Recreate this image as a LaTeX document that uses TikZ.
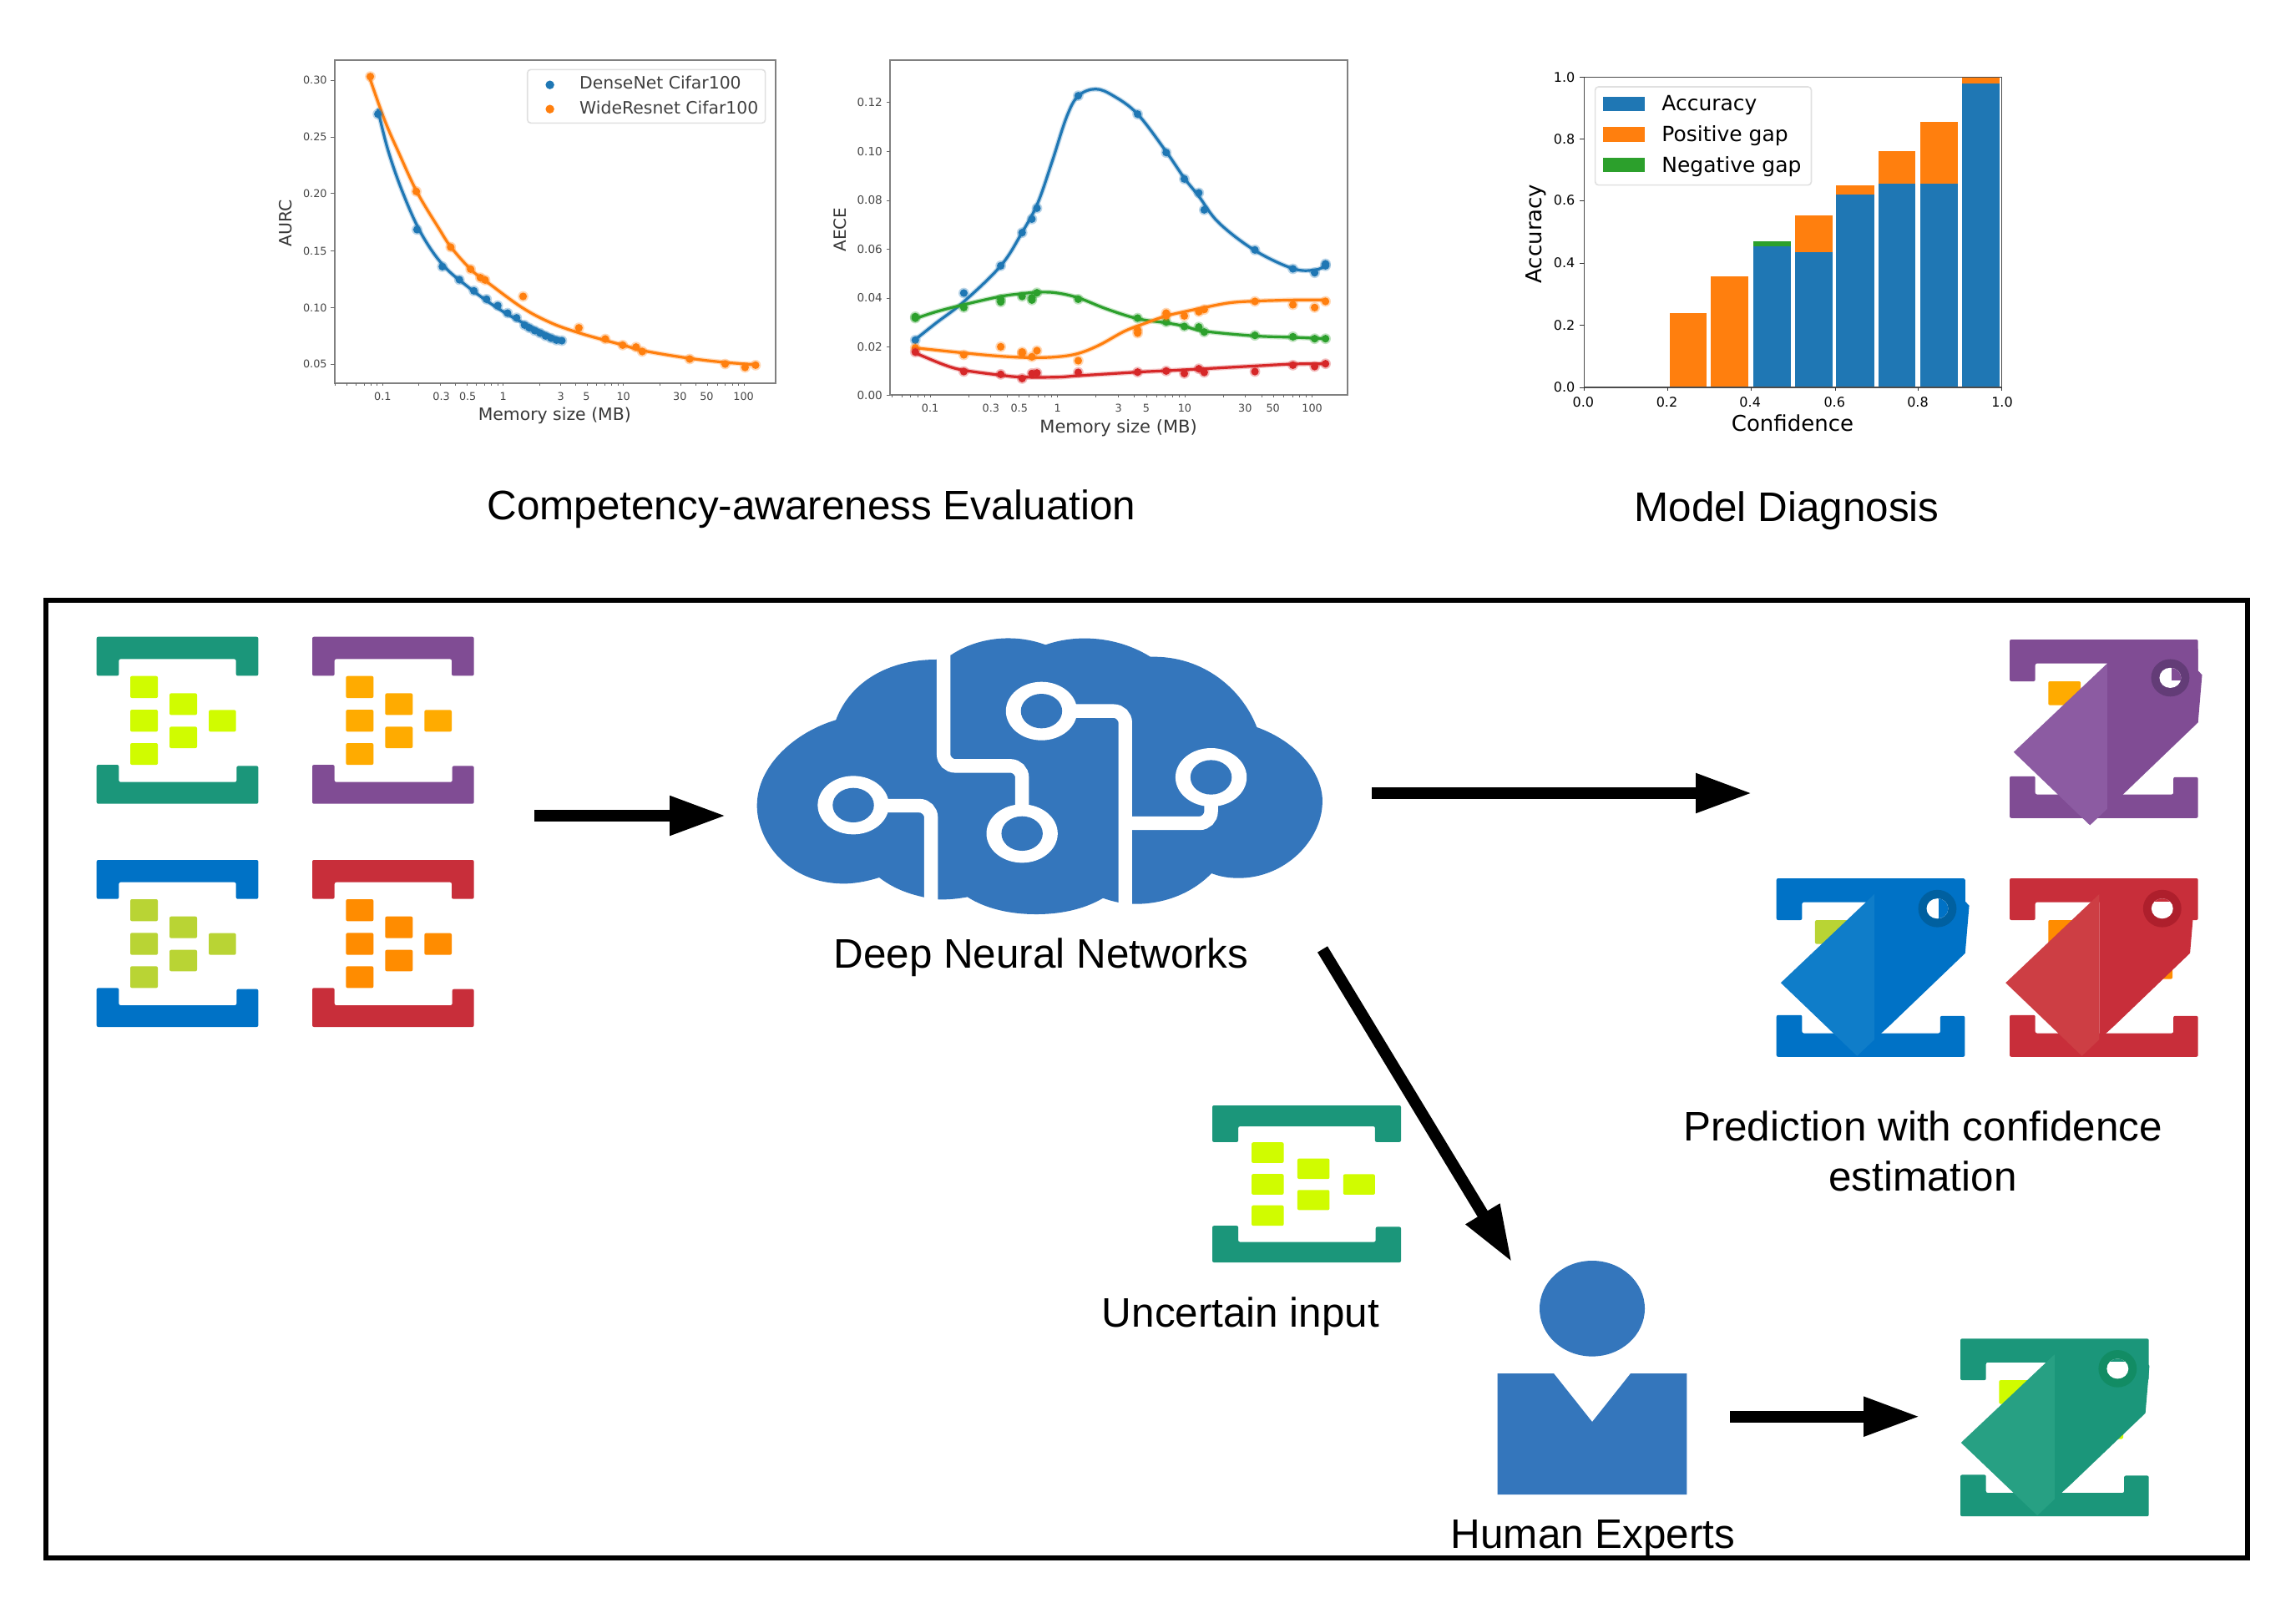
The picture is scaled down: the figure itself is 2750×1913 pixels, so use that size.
\documentclass[tikz,border=0pt]{standalone}
\usepackage{fontspec}
\setmainfont{Liberation Sans}
\newfontfamily\dv{DejaVu Sans}
\usetikzlibrary{arrows.meta}
\definecolor{cloudblue}{HTML}{3476BC}
\definecolor{mplblue}{HTML}{1F77B4}
\definecolor{mplorange}{HTML}{FF7F0E}
\definecolor{mplgreen}{HTML}{2CA02C}
\definecolor{mplred}{HTML}{D62728}
\definecolor{iteal}{HTML}{1B967A}
\definecolor{ipurple}{HTML}{804C94}
\definecolor{iblue}{HTML}{0072C6}
\definecolor{ired}{HTML}{C82E3A}
\definecolor{lteal}{HTML}{27A083}
\definecolor{lpurple}{HTML}{8C5BA2}
\definecolor{lblue}{HTML}{0F7DC9}
\definecolor{lred}{HTML}{CD3E44}
\definecolor{rteal}{HTML}{128C64}
\definecolor{rpurple}{HTML}{633C77}
\definecolor{rblue}{HTML}{0060A0}
\definecolor{rred}{HTML}{AE1F2C}
\definecolor{sqlime}{HTML}{D0FC00}
\definecolor{sqamber}{HTML}{FFAB00}
\definecolor{sqolive}{HTML}{B9D434}
\definecolor{sqorange}{HTML}{FF8C00}
\tikzset{
  biglabel/.style={font=\fontsize{24.7}{29}\selectfont,inner sep=0pt,anchor=base},
  bigarrow/.style={line width=7pt,-{Triangle[length=34pt,width=22pt]},black},
  plotframe/.style={draw=black!50,line width=1pt},
  ticklab/.style={font=\dv\fontsize{6.4}{7}\selectfont,text=black!72,inner sep=0pt},
  axlab/.style={font=\dv\fontsize{10.2}{12}\selectfont,text=black!78,inner sep=0pt},
  leglab/.style={font=\dv\fontsize{10.2}{12}\selectfont,text=black!75,inner sep=0pt,anchor=west},
  barticklab/.style={font=\dv\fontsize{8}{9}\selectfont,inner sep=0pt},
  baraxlab/.style={font=\dv\fontsize{13}{15}\selectfont,inner sep=0pt},
  barleglab/.style={font=\dv\fontsize{12.5}{15}\selectfont,inner sep=0pt,anchor=west},
}
% smooth fitted curve with a soft halo (the reference plots are blurred)
\newcommand{\fitcurve}[2]{%
  \draw[#1,opacity=.25,line width=3pt,line cap=round] plot[smooth,tension=.6] coordinates {#2};
  \draw[#1,line width=1.6pt,line cap=round] plot[smooth,tension=.6] coordinates {#2};}
\newcommand{\scatterpts}[2]{%
  \foreach \p in {#2}{\fill[#1,opacity=.3] \p circle[radius=3.2pt];\fill[#1] \p circle[radius=2.3pt];}}
\newcommand{\logticks}[5]{%
  \foreach \d in {-2,...,2}\foreach \m in {.301,.477,.602,.699,.778,.845,.903,.954,1}{%
    \pgfmathsetmacro\xx{#1+#2*(\d+\m)}%
    \pgfmathparse{int((\xx>=#3 && \xx<=#4)?1:0)}%
    \ifnum\pgfmathresult=1 \draw[black!60,line width=.5pt] (\xx,#5) -- ++(0,8);\fi}}
% plain data icon, local unit = zoom pixel
\newcommand{\dataicon}[6]{%
  \begin{scope}[shift={(#1,#2)},x=#3,y=#4]
    \fill[#5,rounded corners=1pt] (0,0)--(581,0)--(581,140)--(501,140)--(501,80)--(80,80)--(80,140)--(0,140)--cycle;
    \fill[#5,rounded corners=1pt] (0,460)--(80,460)--(80,522)--(503,522)--(503,464)--(581,464)--(581,600)--(0,600)--cycle;
    \foreach \ya/\yb in {141/220,262/341,382/460}\fill[#6,rounded corners=1pt] (121,\ya) rectangle (220,\yb);
    \foreach \ya/\yb in {203/281,323/400}\fill[#6,rounded corners=1pt] (262,\ya) rectangle (361,\yb);
    \fill[#6,rounded corners=1pt] (403,263) rectangle (501,341);
  \end{scope}}
\newcommand{\tagcolors}[4]{\colorlet{tagmain}{#1}\colorlet{taglight}{#2}\colorlet{tagring}{#3}\colorlet{tagsq}{#4}}
% tagged icon: origin x,y ; y unit ; fold anchor ax,ay ; hole mask rectangle corners ; extra square colour
\newcommand{\tagicon}[8]{%
  \begin{scope}[shift={(#1,#2)},x=.18498pt,y=#3]
    \fill[tagmain,rounded corners=1pt] (0,0)--(610,0)--(610,145)--(530,145)--(530,83)--(83,83)--(83,145)--(0,145)--cycle;
    \fill[tagmain,rounded corners=1pt] (0,475)--(83,475)--(83,538)--(530,538)--(530,478)--(610,478)--(610,620)--(0,620)--cycle;
    \fill[tagsq,rounded corners=1pt] (125,145) rectangle (230,228);
    \fill[#8,rounded corners=1pt] (490,290) rectangle (527,350);
    \begin{scope}[shift={(#4,#5)}]
      \fill[tagmain] (0,-50)--(294,-50)--(294,25)--(307,40)--(294,205)--(51,455)--(0,505)--cycle;
      \fill[taglight] (0,0)--(-303,308)--(-56,562)--(0,505)--cycle;
      \fill[tagring] (204,50) ellipse[x radius=62,y radius=65];
      \begin{scope}
        \clip (204,50) ellipse[x radius=35,y radius=35];
        \fill[white] (150,0) rectangle (260,100);
        \fill[tagmain] (204,50) ++(#6) rectangle ++(#7);
      \end{scope}
    \end{scope}
  \end{scope}}
\begin{document}
\begin{tikzpicture}[x=.5pt,y=-.5pt]
\useasboundingbox (0,0) rectangle (2750,1913);
\fill[white] (0,0) rectangle (2750,1913);

%%% ---- plot 1 : AURC
\begin{scope}[shift={(300,40)},x=.21683pt,y=-.16667pt]
  \draw[plotframe] (232,97) rectangle (1450,1258);
  \logticks{698}{332.5}{232}{1450}{1258}
  \foreach \yy/\lab [count=\c] in {168/0.30,372/0.25,575/0.20,782/0.15,985/0.10,1188/0.05}{
    \draw[black!60,line width=.5pt] (232,\yy) -- ++(-10,0);
    \node[ticklab,anchor=east] (pa-y\c) at (212,\yy) {\lab};}
  \foreach \xx/\lab [count=\c] in {365/0.1,527/0.3,600/0.5,698/1,857/3,928/5,1030/10,1186/30,1260/50,1362/100}{
    \node[ticklab] (pa-x\c) at (\xx,1305) {\lab};}
  \node[axlab] (pa-xl) at (840,1373) {Memory size (MB)};
  \node[axlab,rotate=90] (pa-yl) at (98,683) {AURC};
  \fitcurve{mplorange}{(328,155)(370,310)(410,430)(460,570)(520,700)(555,770)(610,850)(650,890)(750,985)(830,1040)(905,1075)(980,1103)(1030,1120)(1085,1140)(1210,1167)(1310,1182)(1395,1190)}
  \fitcurve{mplblue}{(352,275)(380,420)(420,570)(470,715)(530,830)(600,910)(680,985)(760,1045)(860,1105)}
  \scatterpts{mplorange}{(331,155),(458,568),(553,768),(608,847),(635,878),(648,886),(753,945),(907,1058),(980,1098),(1028,1120),(1065,1127),(1082,1143),(1213,1170),(1311,1188),(1366,1200),(1395,1192)}
  \scatterpts{mplblue}{(352,290),(460,705),(530,838),(577,885),(617,925),(652,955),(683,978),(710,1005),(735,1022),(757,1048),(770,1058),(785,1068),(800,1077),(815,1087),(830,1095),(845,1102),(860,1104)}
  \draw[black!12,fill=white,rounded corners=2pt,line width=.8pt] (765,130) rectangle (1422,322);
  \fill[mplblue] (827,185) circle[radius=2.6pt];
  \fill[mplorange] (827,272) circle[radius=2.6pt];
  \node[leglab] (pa-l1) at (908,178) {DenseNet Cifar100};
  \node[leglab] (pa-l2) at (908,268) {WideResnet Cifar100};
\end{scope}

%%% ---- plot 2 : AECE
\begin{scope}[shift={(1000,40)},x=.21683pt,y=-.16667pt]
  \draw[plotframe] (153,97) rectangle (1415,1300);
  \logticks{615}{351.7}{153}{1415}{1300}
  \foreach \yy/\lab [count=\c] in {247/0.12,424/0.10,600/0.08,776/0.06,951/0.04,1127/0.02,1300/0.00}{
    \draw[black!60,line width=.5pt] (153,\yy) -- ++(-10,0);
    \node[ticklab,font=\dv\fontsize{6.8}{7}\selectfont,anchor=east] (pb-y\c) at (132,\yy) {\lab};}
  \foreach \xx/\lab [count=\c] in {263/0.1,431/0.3,509/0.5,615/1,783/3,860/5,966/10,1133/30,1210/50,1318/100}{
    \node[ticklab] (pb-x\c) at (\xx,1347) {\lab};}
  \node[axlab,font=\dv\fontsize{10.5}{12}\selectfont] (pb-xl) at (783,1418) {Memory size (MB)};
  \node[axlab,font=\dv\fontsize{10}{12}\selectfont,rotate=90] (pb-yl) at (14,705) {AECE};
  \fitcurve{mplblue}{(222,1100)(280,1040)(355,965)(458,835)(517,715)(560,610)(600,460)(640,300)(672,225)(720,200)(770,225)(836,290)(915,425)(965,520)(1005,585)(1060,680)(1160,780)(1265,845)(1325,850)(1355,835)}
  \fitcurve{mplgreen}{(222,1025)(280,1000)(355,975)(458,945)(517,935)(558,930)(610,932)(672,950)(750,990)(836,1025)(915,1040)(965,1052)(1020,1070)(1160,1087)(1265,1092)(1355,1097)}
  \fitcurve{mplorange}{(222,1130)(355,1148)(458,1160)(544,1165)(615,1162)(672,1150)(730,1120)(800,1070)(860,1040)(915,1015)(965,1000)(1020,985)(1090,968)(1160,962)(1265,958)(1355,958)}
  \fitcurve{mplred}{(222,1148)(300,1190)(355,1210)(458,1228)(517,1235)(615,1235)(672,1230)(836,1217)(915,1212)(1020,1205)(1160,1195)(1265,1188)(1355,1187)}
  \scatterpts{mplblue}{(222,1102),(356,933),(458,835),(517,716),(544,667),(558,628),(672,224),(836,290),(915,428),(965,523),(1005,573),(1020,634),(1160,778),(1265,846),(1325,860),(1355,828),(1355,835)}
  \scatterpts{mplgreen}{(222,1018),(222,1023),(356,985),(458,955),(458,965),(517,945),(544,950),(544,958),(558,932),(672,955),(836,1023),(915,1037),(965,1053),(1005,1055),(1020,1073),(1160,1085),(1265,1090),(1325,1097),(1355,1097)}
  \scatterpts{mplorange}{(222,1130),(356,1155),(458,1126),(517,1145),(517,1150),(544,1162),(558,1140),(672,1176),(836,1065),(836,1077),(915,1005),(915,1015),(965,1015),(1005,1000),(1020,992),(1160,963),(1265,975),(1325,985),(1355,963)}
  \scatterpts{mplred}{(222,1145),(356,1215),(458,1225),(517,1240),(544,1222),(558,1220),(672,1218),(836,1217),(915,1213),(965,1222),(1005,1205),(1020,1218),(1160,1215),(1265,1192),(1325,1197),(1355,1187)}
\end{scope}

%%% ---- plot 3 : reliability diagram
\begin{scope}[shift={(1800,50)},x=.21683pt,y=-.16667pt]
  \fill[mplorange] (461,974) rectangle (563,1242);
  \fill[mplorange] (575,842) rectangle (679,1242);
  \fill[mplgreen] (691,717) rectangle (796,736);
  \fill[mplblue] (691,736) rectangle (796,1242);
  \fill[mplorange] (806,624) rectangle (910,757);
  \fill[mplblue] (806,757) rectangle (910,1242);
  \fill[mplorange] (921,517) rectangle (1026,548);
  \fill[mplblue] (921,548) rectangle (1026,1242);
  \fill[mplorange] (1038,393) rectangle (1140,509);
  \fill[mplblue] (1038,509) rectangle (1140,1242);
  \fill[mplorange] (1153,288) rectangle (1257,509);
  \fill[mplblue] (1153,509) rectangle (1257,1242);
  \fill[mplorange] (1268,127) rectangle (1373,149);
  \fill[mplblue] (1268,149) rectangle (1373,1242);
  \draw[draw=black!70,line width=.8pt] (225,127) rectangle (1378,1242);
  \foreach \v/\lab [count=\c] in {222/0.0,453/0.2,683/0.4,916/0.6,1146/0.8,1379/1.0}{
    \node[barticklab] (pc-x\c) at (\v,1295) {\lab};}
  \foreach \v in {225,456,686,918,1148,1378}{\draw[black!80,line width=.5pt] (\v,1242) -- ++(0,12);}
  \foreach \v/\lab [count=\c] in {127/1.0,350/0.8,570/0.6,795/0.4,1018/0.2,1242/0.0}{
    \draw[black!80,line width=.5pt] (225,\v) -- ++(-12,0);
    \node[barticklab,anchor=east] (pc-y\c) at (200,\v) {\lab};}
  \node[baraxlab] (pc-xl) at (800,1370) {Confidence};
  \node[baraxlab,rotate=90] (pc-yl) at (92,690) {Accuracy};
  \draw[black!12,fill=white,rounded corners=2pt,line width=.8pt] (255,162) rectangle (852,515);
  \fill[mplblue] (277,197) rectangle (393,248);
  \fill[mplorange] (277,307) rectangle (393,359);
  \fill[mplgreen] (277,418) rectangle (393,469);
  \node[barleglab] (pc-l1) at (438,229) {Accuracy};
  \node[barleglab] (pc-l2) at (438,339) {Positive gap};
  \node[barleglab] (pc-l3) at (438,448) {Negative gap};
\end{scope}

%%% ---- captions
\node[biglabel] (capA) at (972,622) {Competency-awareness Evaluation};
\node[biglabel] (capB) at (2140,624.5) {Model Diagnosis};

%%% ---- main frame
\draw[black,line width=3pt] (55,719) rectangle (2692,1866);

%%% ---- input icons
\dataicon{115.7}{762.7}{.16667pt}{-.16667pt}{iteal}{sqlime}
\dataicon{374}{762.7}{.16667pt}{-.16667pt}{ipurple}{sqamber}
\dataicon{115.7}{1030}{.16667pt}{-.16667pt}{iblue}{sqolive}
\dataicon{374}{1030}{.16667pt}{-.16667pt}{ired}{sqorange}

%%% ---- cloud
\begin{scope}[shift={(880,740)},x=.24237pt,y=-.16667pt]
  \fill[cloudblue] (250,367) .. controls (285,230) and (380,150) .. (497,150) -- (535,133)
    .. controls (600,70) and (690,55) .. (768,97)
    .. controls (850,55) and (950,70) .. (1027,140)
    .. controls (1160,135) and (1255,260) .. (1290,393)
    .. controls (1390,445) and (1455,560) .. (1452,665)
    .. controls (1450,800) and (1360,935) .. (1245,935)
    .. controls (1220,935) and (1200,930) .. (1178,918)
    .. controls (1130,990) and (1060,1030) .. (985,1028)
    .. controls (960,1028) and (935,1020) .. (910,1007)
    .. controls (860,1050) and (800,1065) .. (745,1065)
    .. controls (680,1065) and (620,1045) .. (575,1003)
    .. controls (530,1015) and (490,1015) .. (465,1003)
    .. controls (425,990) and (390,970) .. (357,933)
    .. controls (320,950) and (290,955) .. (270,955)
    .. controls (130,955) and (55,800) .. (55,675)
    .. controls (55,530) and (150,410) .. (250,367) -- cycle;
  \begin{scope}[white,line width=8.2pt,rounded corners=7pt]
    \draw (516,125) -- (516,532) -- (710,532) -- (710,690);
    \draw (375,675) -- (485,675) -- (485,1020);
    \draw (840,335) -- (965,335) -- (965,1035);
    \draw (1177,670) -- (1177,738) -- (965,738);
  \end{scope}
  \foreach \cx/\cy in {293/673,758/335,1177/573,710/775}{
    \fill[white] (\cx,\cy) ellipse[x radius=88,y radius=105];
    \fill[cloudblue] (\cx,\cy) ellipse[x radius=51,y radius=62];}
\end{scope}
\node[biglabel] (dnn) at (1247,1159) {Deep Neural Networks};

%%% ---- output tags
\tagcolors{ipurple}{lpurple}{rpurple}{sqamber}
\tagicon{2407}{766}{-.1724pt}{316}{83}{3,-40}{40,50}{white}
\tagcolors{iblue}{lblue}{rblue}{sqolive}
\tagicon{2127.7}{1052}{-.1724pt}{317}{55}{5,-40}{40,80}{white}
\tagcolors{ired}{lred}{rred}{sqorange}
\tagicon{2407}{1052}{-.1724pt}{290}{55}{-40,-40}{80,15}{sqorange}
\node[biglabel] (pred1) at (2303,1366) {Prediction with confidence};
\node[biglabel] (pred2) at (2303,1426) {estimation};

%%% ---- uncertain input
\dataicon{1452}{1324}{.1945pt}{-.1567pt}{iteal}{sqlime}
\node[biglabel] (unc) at (1486,1589) {Uncertain input};

%%% ---- human
\fill[cloudblue] (1907,1567.3) ellipse[x radius=63,y radius=57.3];
\fill[cloudblue] (1793.7,1645) -- (1861,1645) -- (1907,1703) -- (1953,1645) -- (2020.3,1645) -- (2020.3,1790) -- (1793.7,1790) -- cycle;
\node[biglabel] (human) at (1908,1854) {Human Experts};

%%% ---- final tag
\tagcolors{iteal}{lteal}{rteal}{sqlime}
\tagicon{2348}{1603.3}{-.17167pt}{305}{55}{-40,-40}{80,15}{sqlime}

%%% ---- arrows
\coordinate (a1s) at (640,977);\coordinate (a1e) at (870,977);
\coordinate (a2s) at (1643,950);\coordinate (a2e) at (2099,950);
\coordinate (a3s) at (1584,1137);\coordinate (a3e) at (1811,1512);
\coordinate (a4s) at (2072,1696.7);\coordinate (a4e) at (2300,1696.7);
\draw[bigarrow] (a1s) -- (a1e);
\draw[bigarrow] (a2s) -- (a2e);
\draw[bigarrow] (a3s) -- (a3e);
\draw[bigarrow] (a4s) -- (a4e);
\end{tikzpicture}
\end{document}
